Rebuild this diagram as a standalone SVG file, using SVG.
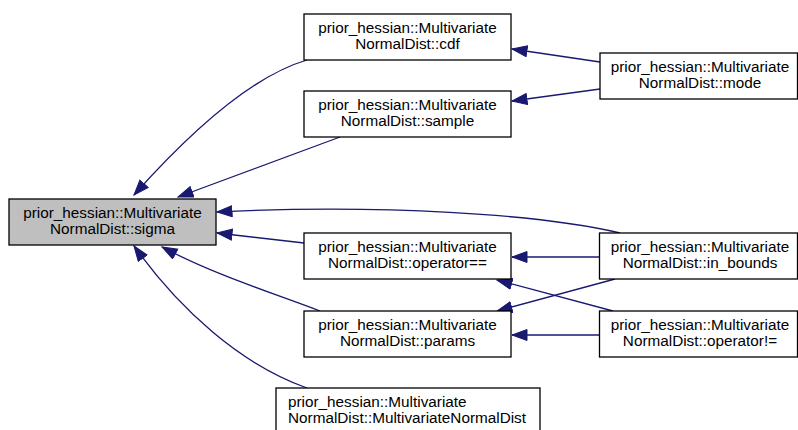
<svg xmlns="http://www.w3.org/2000/svg" width="798" height="430" viewBox="0 0 798 430">
<defs>
<style>
.box{fill:#fff;stroke:#000;stroke-width:1.3}
.hl{fill:#bfbfbf}
text{font-family:"Liberation Sans",Arial,Helvetica,sans-serif;font-size:15.3px;fill:#000}
.c{text-anchor:middle}
.e{fill:none;stroke:#191970;stroke-width:1.3;marker-end:url(#ah)}
</style>
<marker id="ah" markerUnits="userSpaceOnUse" markerWidth="18" markerHeight="13" refX="15.5" refY="6" orient="auto" viewBox="0 0 18 13">
<path d="M0.5,0.5 L15.5,6 L0.5,11.5 z" fill="#191970" stroke="#191970" stroke-width="1"/>
</marker>
</defs>
<rect width="798" height="430" fill="#fff"/>
<g id="edges">
<path class="e" d="M307,60 C252,76 192,130 134,195"/>
<path class="e" d="M340,137 L178,197"/>
<path class="e" d="M600,62 L512,49"/>
<path class="e" d="M600,89 L512,101"/>
<path class="e" d="M620,233 C540,214 380,204 217,212"/>
<path class="e" d="M304,243 L217,233"/>
<path class="e" d="M599,257 L512,257"/>
<path class="e" d="M320,311 C270,292 215,275 162,247"/>
<path class="e" d="M613,311 L497,280"/>
<path class="e" d="M615,279 L497,311"/>
<path class="e" d="M599,335 L512,335"/>
<path class="e" d="M307,388 C240,364 180,310 134,246"/>
</g>
<g id="sigma">
<rect class="box hl" x="9" y="199" width="207" height="46"/>
<text class="c" x="112.5"><tspan x="112.5" y="218">prior_hessian::Multivariate</tspan><tspan x="112.5" y="234">NormalDist::sigma</tspan></text>
</g>
<g id="cdf">
<rect class="box" x="304" y="14" width="207" height="46"/>
<text class="c"><tspan x="407.5" y="33">prior_hessian::Multivariate</tspan><tspan x="407.5" y="49">NormalDist::cdf</tspan></text>
</g>
<g id="sample">
<rect class="box" x="304" y="91" width="207" height="46"/>
<text class="c"><tspan x="407.5" y="110">prior_hessian::Multivariate</tspan><tspan x="407.5" y="126">NormalDist::sample</tspan></text>
</g>
<g id="opeq">
<rect class="box" x="304" y="233" width="207" height="46"/>
<text class="c"><tspan x="407.5" y="252">prior_hessian::Multivariate</tspan><tspan x="407.5" y="268">NormalDist::operator==</tspan></text>
</g>
<g id="params">
<rect class="box" x="304" y="311" width="207" height="46"/>
<text class="c"><tspan x="407.5" y="330">prior_hessian::Multivariate</tspan><tspan x="407.5" y="346">NormalDist::params</tspan></text>
</g>
<g id="ctor">
<rect class="box" x="276" y="388" width="264" height="46"/>
<text><tspan x="288" y="407">prior_hessian::Multivariate</tspan><tspan x="288" y="423">NormalDist::MultivariateNormalDist</tspan></text>
</g>
<g id="mode">
<rect class="box" x="600" y="53" width="197.5" height="46"/>
<text class="c"><tspan x="700" y="72">prior_hessian::Multivariate</tspan><tspan x="700" y="88">NormalDist::mode</tspan></text>
</g>
<g id="in_bounds">
<rect class="box" x="599.5" y="233" width="198" height="46"/>
<text class="c"><tspan x="700" y="252">prior_hessian::Multivariate</tspan><tspan x="700" y="268">NormalDist::in_bounds</tspan></text>
</g>
<g id="opne">
<rect class="box" x="599.5" y="311" width="198" height="46"/>
<text class="c"><tspan x="700" y="330">prior_hessian::Multivariate</tspan><tspan x="700" y="346">NormalDist::operator!=</tspan></text>
</g>
</svg>
